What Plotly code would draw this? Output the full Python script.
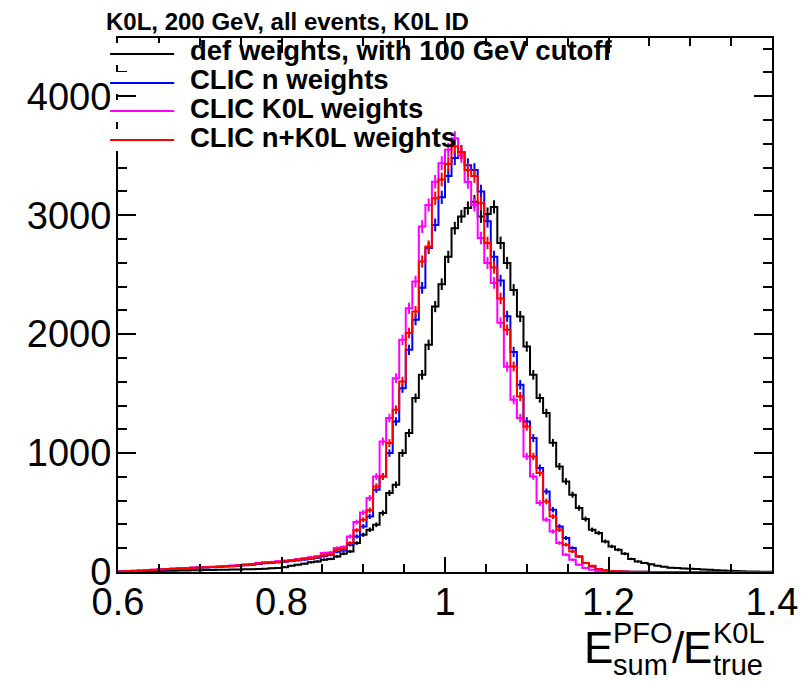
import numpy as np
import plotly.graph_objects as go

# ---------------- data (bin contents, 100 bins from 0.6 to 1.4) ----------------
x_min, x_max, n_bins = 0.6, 1.4, 100

def_weights = [
    3, 4, 5, 6, 7, 8, 9, 10, 11, 12,
    13, 14, 15, 16, 17, 18, 19, 20, 21, 23,
    24, 25, 28, 31, 34, 40, 53, 61, 70, 81,
    89, 103, 110, 131, 154, 173, 243, 313, 355, 397,
    496, 664, 734, 1000, 1168, 1462, 1658, 1910, 2232, 2420,
    2650, 2891, 2990, 3060, 3114, 2990, 3010, 3070, 2767, 2599,
    2372, 2148, 1896, 1658, 1462, 1336, 1086, 887, 761, 650,
    538, 445, 355, 328, 257, 215, 187, 154, 110, 89,
    76, 65, 53, 45, 36, 33, 30, 28, 25, 22,
    18, 15, 12, 10, 8, 6, 5, 4, 3, 2,
]

clic_n = [
    4, 7, 9, 11, 14, 17, 20, 23, 26, 28,
    30, 33, 36, 38, 40, 43, 46, 48, 52, 57,
    62, 68, 74, 77, 82, 86, 92, 98, 105, 112,
    120, 133, 145, 170, 180, 230, 299, 383, 467, 692,
    803, 1000, 1266, 1546, 1868, 2120, 2389, 2725, 2918, 3150,
    3330, 3480, 3530, 3420, 3380, 3200, 2950, 2650, 2450, 2150,
    1850, 1574, 1266, 1126, 874, 677, 524, 383, 286, 202,
    131, 76, 47, 25, 14, 9, 6, 4, 3, 2,
    2, 1, 1, 1, 1, 1, 0, 0, 0, 0,
    0, 0, 0, 0, 0, 0, 0, 0, 0, 0,
]

clic_k0l = [
    6, 9, 11, 13, 16, 19, 23, 26, 29, 32,
    34, 37, 40, 42, 45, 48, 51, 54, 58, 63,
    68, 75, 82, 85, 90, 95, 100, 108, 116, 124,
    133, 159, 165, 202, 210, 299, 420, 500, 622, 803,
    1098, 1294, 1630, 1952, 2218, 2442, 2904, 3086, 3282, 3437,
    3550, 3647, 3500, 3280, 3086, 2808, 2599, 2431, 2096, 1726,
    1448, 1294, 971, 803, 580, 440, 341, 244, 145, 103,
    61, 34, 19, 8, 5, 3, 2, 2, 1, 1,
    1, 1, 0, 0, 0, 0, 0, 0, 0, 0,
    0, 0, 0, 0, 0, 0, 0, 0, 0, 0,
]

clic_n_k0l = [
    5, 8, 10, 12, 15, 18, 22, 25, 28, 30,
    32, 35, 38, 40, 42, 45, 48, 50, 55, 60,
    65, 72, 78, 80, 85, 90, 95, 103, 110, 118,
    126, 140, 150, 187, 195, 243, 350, 440, 520, 719,
    803, 1084, 1364, 1602, 2010, 2190, 2610, 2736, 3143, 3300,
    3430, 3577, 3530, 3381, 3330, 3100, 2767, 2560, 2300, 2036,
    1728, 1476, 1224, 971, 832, 593, 467, 355, 230, 173,
    131, 76, 53, 25, 14, 9, 6, 4, 3, 2,
    2, 1, 1, 1, 1, 1, 0, 0, 0, 0,
    0, 0, 0, 0, 0, 0, 0, 0, 0, 0,
]

series_names = [
    "def weights, with 100 GeV cutoff",
    "CLIC n weights",
    "CLIC K0L weights",
    "CLIC n+K0L weights",
]
series_colors = ["#000000", "#0000ff", "#ff00ff", "#ff0000"]
series_values = [def_weights, clic_n, clic_k0l, clic_n_k0l]

title_text = "K0L, 200 GeV, all events, K0L ID"
x_ticks = [0.6, 0.8, 1.0, 1.2, 1.4]
x_tick_labels = ["0.6", "0.8", "1", "1.2", "1.4"]
y_ticks = [0, 1000, 2000, 3000, 4000]
y_tick_labels = ["0", "1000", "2000", "3000", "4000"]
y_top = 4490

# ---------------- figure ----------------
edges = np.linspace(x_min, x_max, n_bins + 1)
centers = 0.5 * (edges[:-1] + edges[1:])

fig = go.Figure()
for name, col, vals in zip(series_names, series_colors, series_values):
    v = np.array(vals, dtype=float)
    fig.add_trace(go.Scatter(
        x=edges, y=np.append(v, v[-1]), mode="lines",
        line=dict(color=col, width=2, shape="hv"),
        showlegend=False, hoverinfo="skip", name=name,
    ))
    fig.add_trace(go.Scatter(
        x=centers, y=v, mode="markers",
        marker=dict(size=0.1, color=col),
        error_y=dict(type="data", array=np.sqrt(v), color=col, thickness=2, width=0),
        showlegend=False, hoverinfo="skip",
    ))

L, R, T, B = 118, 782, 38, 572
W, H = 810, 681

def PX(px):
    return (px - L) / (R - L)

def PY(py):
    return (B - py) / (B - T)

FONT = "Liberation Sans, Arial, Helvetica, sans-serif"

shapes = []
annotations = []

# legend (drawn manually to match ROOT's long line samples)
leg_rows_y = [54, 83, 111, 140]
for i, (name, col) in enumerate(zip(series_names, series_colors)):
    yy = leg_rows_y[i]
    shapes.append(dict(type="rect", xref="paper", yref="paper",
                       x0=PX(112), x1=PX(182), y0=PY(yy - 11), y1=PY(yy + 11),
                       fillcolor="white", line=dict(width=0), layer="above"))
    shapes.append(dict(type="line", xref="paper", yref="paper",
                       x0=PX(110), x1=PX(175), y0=PY(yy), y1=PY(yy),
                       line=dict(color=col, width=2), layer="above"))
    annotations.append(dict(text="<b>%s</b>" % name, xref="paper", yref="paper",
                            x=PX(189), y=PY(yy - 3), xanchor="left", yanchor="middle",
                            showarrow=False, font=dict(family=FONT, size=27.5, color="black")))

# title
annotations.append(dict(text="<b>%s</b>" % title_text, xref="paper", yref="paper",
                        x=PX(104), y=PY(22), xanchor="left", yanchor="middle",
                        showarrow=False, font=dict(family=FONT, size=24, color="black")))

# x-axis title  E^{PFO}_{sum}/E^{K0L}_{true}
big = 44
small = 29
title_parts = [
    ("E", 589, 647, big),
    ("PFO", 619, 633, small),
    ("sum", 619, 665, small),
    ("/", 678, 647, big),
    ("E", 690, 647, big),
    ("K0L", 720, 633, small),
    ("true", 720, 665, small),
]
for txt, px, py, sz in title_parts:
    annotations.append(dict(text=txt, xref="paper", yref="paper", x=PX(px), y=PY(py),
                            xanchor="left", yanchor="middle", showarrow=False,
                            font=dict(family=FONT, size=sz, color="black")))

axis_common = dict(
    showline=True, linecolor="black", linewidth=2, mirror="allticks",
    ticks="inside", tickcolor="black", tickwidth=2,
    showgrid=False, zeroline=False,
    tickfont=dict(family=FONT, size=38, color="black"),
)

fig.update_layout(
    width=W, height=H,
    margin=dict(l=L, r=W - R, t=T, b=H - B, pad=0),
    paper_bgcolor="white", plot_bgcolor="white",
    showlegend=False,
    shapes=shapes, annotations=annotations,
    xaxis=dict(range=[x_min, x_max], tickvals=x_ticks, ticktext=x_tick_labels,
               ticklen=15, ticklabelstandoff=-5,
               minor=dict(dtick=0.05, tick0=0.6, ticklen=8, ticks="inside",
                          tickcolor="black", tickwidth=2),
               **axis_common),
    yaxis=dict(range=[0, y_top], tickvals=y_ticks, ticktext=y_tick_labels,
               ticklen=18, ticklabelstandoff=-3,
               minor=dict(dtick=200, tick0=0, ticklen=9, ticks="inside",
                          tickcolor="black", tickwidth=2),
               **axis_common),
)

fig.write_html("out.html")
